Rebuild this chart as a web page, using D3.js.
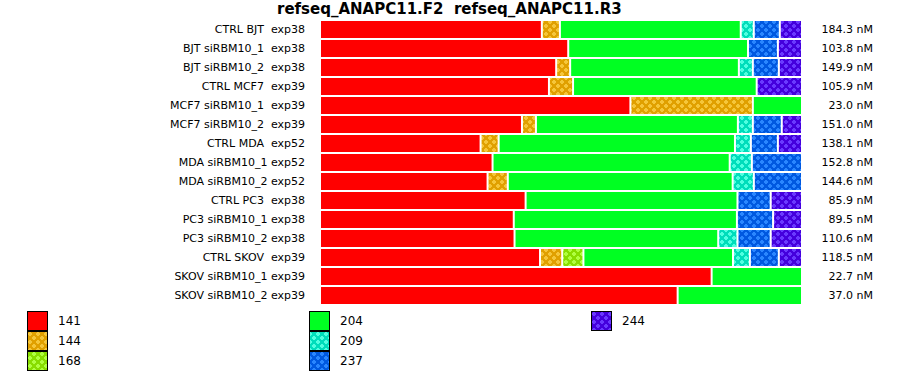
<!DOCTYPE html>
<html><head><meta charset="utf-8">
<script src="https://cdn.jsdelivr.net/npm/d3@7"></script>
<style>body{margin:0;background:#fff}svg{display:block}text{font-family:"DejaVu Sans",sans-serif;white-space:pre}</style>
</head><body>
<script>
const title = "refseq_ANAPC11.F2  refseq_ANAPC11.R3";
const categories = ["CTRL BJT  exp38","BJT siRBM10_1  exp38","BJT siRBM10_2  exp38","CTRL MCF7  exp39","MCF7 siRBM10_1  exp39","MCF7 siRBM10_2  exp39","CTRL MDA  exp52","MDA siRBM10_1 exp52","MDA siRBM10_2 exp52","CTRL PC3  exp38","PC3 siRBM10_1 exp38","PC3 siRBM10_2 exp38","CTRL SKOV  exp39","SKOV siRBM10_1 exp39","SKOV siRBM10_2 exp39"];
const concentrations = ["184.3 nM","103.8 nM","149.9 nM","105.9 nM","23.0 nM","151.0 nM","138.1 nM","152.8 nM","144.6 nM","85.9 nM","89.5 nM","110.6 nM","118.5 nM","22.7 nM","37.0 nM"];
const seriesNames = ["141","144","168","204","209","237","244"];
const s141 = [46.0,51.5,49.0,47.5,64.4,41.9,33.3,35.8,34.8,42.7,40.2,40.4,45.6,81.25,74.2];
const s144 = [3.75,0,2.9,5.0,25.4,2.9,3.75,0,4.2,0,0,0,4.6,0,0];
const s168 = [0,0,0,0,0,0,0,0,0,0,0,0,4.4,0,0];
const s204 = [37.5,37.3,35.0,38.1,10.2,41.9,49.0,49.2,46.7,44.0,46.3,42.3,31.0,18.75,25.8];
const s209 = [2.7,0,2.9,0,0,3.1,3.3,4.6,4.4,0,0,4.0,3.5,0,0];
const s237 = [5.4,6.2,5.4,0,0,6.0,5.6,10.4,10.0,6.9,7.5,6.9,6.0,0,0];
const s244 = [4.6,5.0,4.8,9.4,0,4.2,5.0,0,0,6.5,6.0,6.5,4.8,0,0];
const seriesValues = [s141,s144,s168,s204,s209,s237,s244];
// colours: [base, light pattern or null]
const seriesColors = [["#ff0000",null],["#e0a000","#f5c63a"],["#88dd00","#b0ff40"],["#00ff22",null],["#00ddbb","#50ffe0"],["#0058e0","#2a86ff"],["#4400dd","#6a3aff"]];

const W=900,H=375;
const svg=d3.select("body").append("svg").attr("width",W).attr("height",H);
const defs=svg.append("defs");
seriesColors.forEach((c,i)=>{
  if(!c[1])return;
  const p=defs.append("pattern").attr("id","pat"+i).attr("width",8).attr("height",8).attr("patternUnits","userSpaceOnUse");
  p.append("rect").attr("width",8).attr("height",8).attr("fill",c[0]);
  [[2,2],[6,6]].forEach(([cx,cy])=>{
    p.append("rect").attr("x",cx-1).attr("y",cy-2).attr("width",2).attr("height",4).attr("fill",c[1]);
    p.append("rect").attr("x",cx-2).attr("y",cy-1).attr("width",4).attr("height",2).attr("fill",c[1]);
  });
});
const fillOf=i=>seriesColors[i][1]?`url(#pat${i})`:seriesColors[i][0];

svg.append("text").attr("x",277).attr("y",14).attr("text-anchor","start").attr("font-size",15).attr("font-weight","bold").attr("fill","#000").text(title);

const x=d3.scaleLinear().domain([0,100]).range([320,802]);
const y=d3.scaleBand().domain(categories).range([20,305]).padding(0);

categories.forEach((cat,r)=>{
  const total=d3.sum(seriesValues,s=>s[r]);
  let acc=0;
  const segs=[];
  seriesValues.forEach((s,i)=>{
    const v=s[r]/total*100;
    if(v>0){segs.push({i,x0:acc,x1:acc+v});acc+=v;}
  });
  const g=svg.append("g");
  g.selectAll("rect").data(segs).join("rect")
    .attr("x",d=>x(d.x0)+1).attr("width",d=>x(d.x1)-x(d.x0)-2)
    .attr("y",y(cat)+1).attr("height",y.bandwidth()-2)
    .attr("fill",d=>fillOf(d.i));
});

svg.append("g").selectAll("text").data(categories).join("text")
  .attr("x",305).attr("y",d=>y(d)+y.bandwidth()/2).attr("dy","0.35em")
  .attr("text-anchor","end").attr("font-size",11).text(d=>d);
svg.append("g").selectAll("text").data(concentrations).join("text")
  .attr("x",873).attr("y",(d,i)=>y(categories[i])+y.bandwidth()/2).attr("dy","0.35em")
  .attr("text-anchor","end").attr("font-size",11).text(d=>d);

// legend
const lg=svg.append("g");
seriesNames.forEach((n,i)=>{
  const col=Math.floor(i/3), row=i%3;
  const lx=27+col*282, ly=311+row*20;
  lg.append("rect").attr("x",lx+0.5).attr("y",ly+0.5).attr("width",20).attr("height",19)
    .attr("fill",fillOf(i)).attr("stroke","#000").attr("stroke-width",1);
  lg.append("text").attr("x",lx+31).attr("y",ly+10).attr("dy","0.35em").attr("font-size",12).text(n);
});
</script>
</body></html>
